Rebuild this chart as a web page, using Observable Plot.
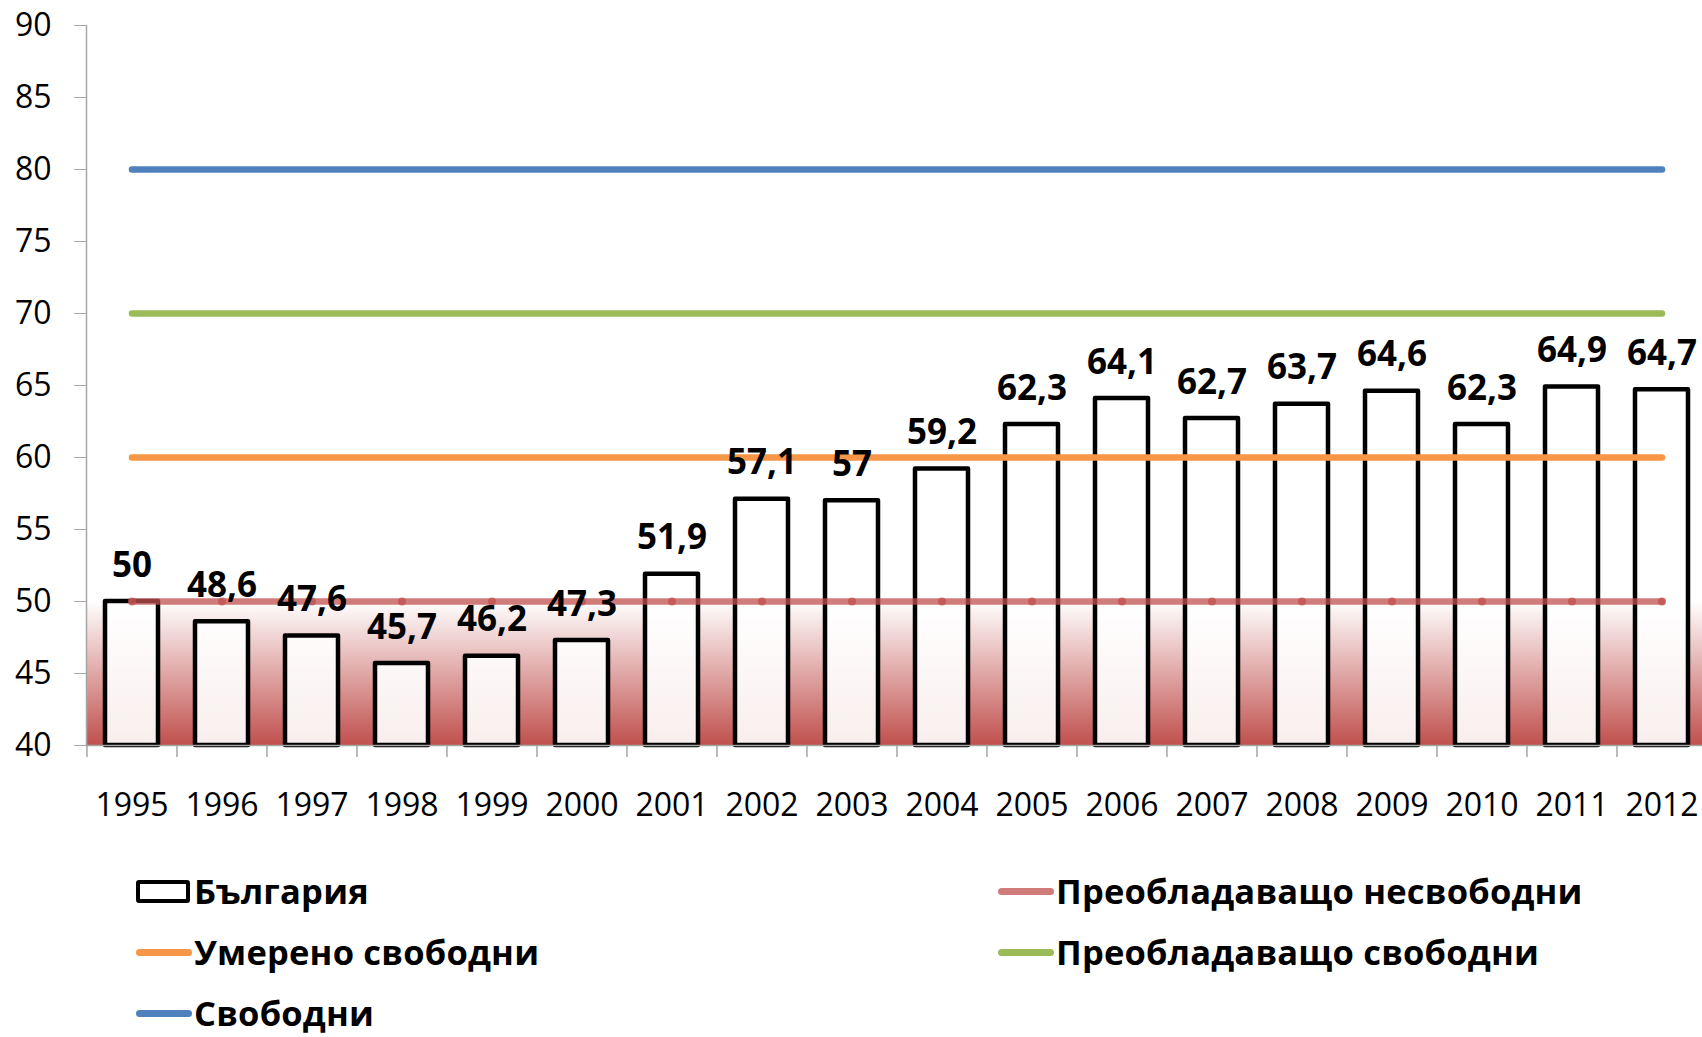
<!DOCTYPE html>
<html>
<head>
<meta charset="utf-8">
<script src="https://cdn.jsdelivr.net/npm/d3@7"></script>
<script src="https://cdn.jsdelivr.net/npm/@observablehq/plot@0.6"></script>
<style>
  html, body { margin: 0; padding: 0; background: #fff; overflow: hidden; }
  #wrap { position: relative; width: 1702px; height: 1037px; overflow: hidden; font-family: "Open Sans", sans-serif; }
  .item { position: absolute; display: flex; align-items: center; height: 36px; line-height: 1; font-weight: bold; font-size: 34.5px; letter-spacing: 0.2px; color: #000; white-space: nowrap; }
  .sw { width: 58px; display: flex; align-items: center; justify-content: flex-start; }
</style>
</head>
<body>
<div id="wrap"></div>
<script>
// ---- data ----
const years = ["1995","1996","1997","1998","1999","2000","2001","2002","2003","2004","2005","2006","2007","2008","2009","2010","2011","2012"];
const bulgaria = [50, 48.6, 47.6, 45.7, 46.2, 47.3, 51.9, 57.1, 57, 59.2, 62.3, 64.1, 62.7, 63.7, 64.6, 62.3, 64.9, 64.7];
const seriesName = "България";
const bandNames = ["Преобладаващо несвободни", "Умерено свободни", "Преобладаващо свободни", "Свободни"];
const bandValues = [50, 60, 70, 80];
const bandColors = ["#c0504d", "#f79646", "#9bbb59", "#4f81bd"];
const yTicks = [40, 45, 50, 55, 60, 65, 70, 75, 80, 85, 90];

// ---- tables ----
const bars = years.map((y, i) => ({year: y, value: bulgaria[i]}));
const lines = bandNames.flatMap((n, j) => years.map(y => ({year: y, series: n, value: bandValues[j]})));
const redLine = lines.filter(d => d.series === bandNames[0]);
const otherLines = lines.filter(d => d.series !== bandNames[0]);
const fmt = v => String(v).replace(".", ",");

const x0 = 86, x1 = 1707;
const step = (x1 - x0) / years.length;
const gray = "#a6a6a6";

const svg = Plot.plot({
  width: 1702,
  height: 850,
  marginTop: 25,
  marginBottom: 105,
  marginLeft: 86,
  marginRight: 0,
  style: {fontFamily: "Open Sans", background: "white", color: "black"},
  x: {domain: years, range: [x0, x1], paddingInner: 0.41, paddingOuter: 0.205, axis: null},
  y: {domain: [yTicks[0], yTicks[yTicks.length - 1]], axis: null},
  color: {domain: bandNames, range: bandColors},
  marks: [
    Plot.rect([{lo: yTicks[0], hi: bandValues[0]}], {y1: "lo", y2: "hi", fill: "url(#redFade)"}),
    Plot.barY(bars, {x: "year", y1: yTicks[0], y2: "value", fill: "white", fillOpacity: 0.9,
      stroke: "black", strokeWidth: 4.5, strokeLinejoin: "round"}),
    Plot.frame({anchor: "left", stroke: gray, strokeWidth: 1.5}),
    Plot.frame({anchor: "bottom", stroke: gray, strokeWidth: 1.5}),
    Plot.axisY({ticks: yTicks, tickSize: 12, tickPadding: 23, fontSize: 32, stroke: gray, fill: "black", label: null}),
    Plot.axisX({tickSize: 12, fill: "none", stroke: gray, strokeWidth: 1.5, dx: -step / 2, label: null}),
    Plot.axisX({tickSize: 0, tickPadding: 48, fontSize: 32, fill: "black", label: null}),
    Plot.line(otherLines, {x: "year", y: "value", z: "series", stroke: "series", strokeWidth: 6.5, strokeLinecap: "round"}),
    Plot.line(redLine, {x: "year", y: "value", stroke: "series", strokeWidth: 6.5, strokeLinecap: "round", strokeOpacity: 0.75}),
    Plot.dot(redLine, {x: "year", y: "value", r: 4, fill: "series", fillOpacity: 0.75, stroke: "none"}),
    Plot.text(bars, {x: "year", y: "value", text: d => fmt(d.value), dy: -36, fontSize: 35, fontWeight: "bold", fill: "black"})
  ]
});

const defs = d3.select(svg).insert("defs", ":first-child");
const grad = defs.append("linearGradient").attr("id", "redFade")
  .attr("x1", 0).attr("y1", 0).attr("x2", 0).attr("y2", 1);
grad.append("stop").attr("offset", "0%").attr("stop-color", "#ffffff");
grad.append("stop").attr("offset", "100%").attr("stop-color", bandColors[0]);

const wrap = document.getElementById("wrap");
wrap.appendChild(svg);
svg.style.position = "absolute";
svg.style.left = "0px";
svg.style.top = "0px";

// ---- legend ----
const legendItems = [{name: seriesName, kind: "box"}].concat(bandNames.map((n, j) => ({name: n, kind: "line", color: bandColors[j], opacity: j === 0 ? 0.75 : 1})));
legendItems.forEach((it, i) => {
  const col = i % 2, row = Math.floor(i / 2);
  const div = document.createElement("div");
  div.className = "item";
  div.style.left = (136 + col * 862) + "px";
  div.style.top = (891 + row * 61 - 18) + "px";
  const sw = document.createElement("div");
  sw.className = "sw";
  const mark = document.createElement("div");
  if (it.kind === "box") {
    mark.style.cssText = "width:46px;height:15px;border:4px solid #000;border-radius:3px;background:#fff;";
  } else {
    mark.style.cssText = `width:56px;height:7px;border-radius:3.5px;background:${it.color};opacity:${it.opacity};`;
  }
  sw.appendChild(mark);
  div.appendChild(sw);
  const t = document.createElement("span");
  t.textContent = it.name;
  div.appendChild(t);
  wrap.appendChild(div);
});
</script>
</body>
</html>
